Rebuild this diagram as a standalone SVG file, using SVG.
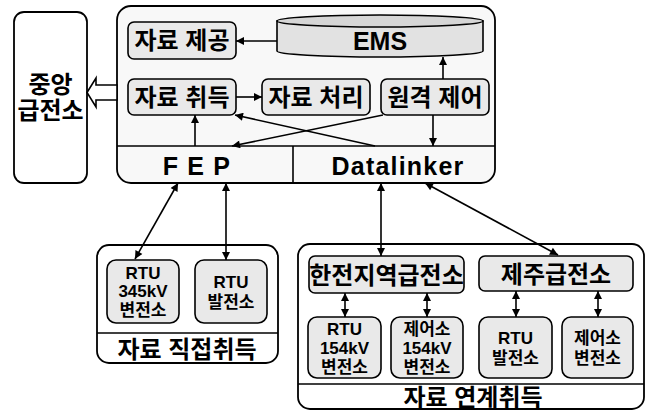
<svg xmlns="http://www.w3.org/2000/svg" width="651" height="410" viewBox="0 0 651 410">
<defs>
<marker id="ah" viewBox="0 0 10 10" refX="10" refY="5" markerWidth="9" markerHeight="8" markerUnits="userSpaceOnUse" orient="auto-start-reverse"><path d="M0,0 L10,5 L0,10 Z" fill="#000"/></marker>
<style>
.box{fill:#e9e9e9;stroke:#000;stroke-width:1.6}
.cont{fill:#f8f8f8;stroke:#000;stroke-width:1.8}
.ln{fill:none;stroke:#000;stroke-width:1.6}
.a{fill:none;stroke:#000;stroke-width:1.6;marker-end:url(#ah)}
.aa{fill:none;stroke:#000;stroke-width:1.6;marker-end:url(#ah);marker-start:url(#ah)}
text{font-family:"Liberation Sans","Noto Sans CJK KR",sans-serif;font-weight:bold;text-anchor:middle;dominant-baseline:central;fill:#000}
.t1{font-size:24px}
.t2{font-size:17px}
.t3{font-size:25px;letter-spacing:1.2px}
</style>
</defs>
<g id="central">
<rect x="14" y="12" width="73" height="171" rx="10" fill="#fff" stroke="#000" stroke-width="1.8"/>
<text class="t1" x="50.5" y="84">중앙</text>
<text class="t1" x="50.5" y="110">급전소</text>
</g>
<g id="main">
<rect class="cont" x="117" y="6" width="378" height="177" rx="14"/>
<line class="ln" x1="117" y1="146" x2="495" y2="146"/>
<line class="ln" x1="293" y1="146" x2="293" y2="183"/>
</g>
<g id="fep"><text class="t3" x="197" y="166">F E P</text></g>
<g id="datalinker"><text class="t3" x="398" y="166">Datalinker</text></g>
<g id="ems">
<path d="M277,21 L277,51 A103,6 0 0 0 483,51 L483,21 Z" fill="#e2e2e2" stroke="#000" stroke-width="1.6"/>
<ellipse cx="380" cy="21" rx="103" ry="6" fill="#d6d6d6" stroke="#000" stroke-width="1.6"/>
<text x="380" y="41" style="font-size:25px">EMS</text>
</g>
<g id="provide"><rect class="box" x="128" y="22" width="108" height="37" rx="6"/><text class="t1" x="182" y="40.5">자료 제공</text></g>
<g id="acquire"><rect class="box" x="128" y="79" width="108" height="36" rx="6"/><text class="t1" x="182" y="97">자료 취득</text></g>
<g id="process"><rect class="box" x="262" y="79" width="108" height="36" rx="6"/><text class="t1" x="316" y="97">자료 처리</text></g>
<g id="remote"><rect class="box" x="381" y="79" width="108" height="36" rx="6"/><text class="t1" x="435" y="97">원격 제어</text></g>
<g id="direct">
<rect x="97" y="245" width="181" height="118" rx="12" fill="#fff" stroke="#000" stroke-width="1.8"/>
<line class="ln" x1="97" y1="333" x2="278" y2="333"/>
<text class="t1" x="187" y="349">자료 직접취득</text>
</g>
<g id="rtu345"><rect class="box" x="107" y="260" width="72" height="63" rx="9"/><text class="t2" x="143" y="273">RTU</text><text class="t2" x="143" y="291.5">345kV</text><text class="t2" x="143" y="310">변전소</text></g>
<g id="rtugen1"><rect class="box" x="195" y="260" width="72" height="63" rx="9"/><text class="t2" x="231" y="282">RTU</text><text class="t2" x="231" y="302">발전소</text></g>
<g id="linked">
<rect x="298" y="244" width="346" height="165" rx="12" fill="#fff" stroke="#000" stroke-width="1.8"/>
<line class="ln" x1="298" y1="384" x2="644" y2="384"/>
<text class="t1" x="473" y="397">자료 연계취득</text>
</g>
<g id="kepco"><rect class="box" x="309" y="256" width="155" height="37" rx="6"/><text class="t1" x="386.5" y="275">한전지역급전소</text></g>
<g id="jeju"><rect class="box" x="479" y="256" width="154" height="35" rx="6"/><text class="t1" x="556" y="274">제주급전소</text></g>
<g id="rtu154"><rect class="box" x="308" y="317" width="73" height="61" rx="9"/><text class="t2" x="344.5" y="329">RTU</text><text class="t2" x="344.5" y="348.5">154kV</text><text class="t2" x="344.5" y="367">변전소</text></g>
<g id="ctl154"><rect class="box" x="391" y="317" width="72" height="61" rx="9"/><text class="t2" x="427" y="329">제어소</text><text class="t2" x="427" y="348.5">154kV</text><text class="t2" x="427" y="367">변전소</text></g>
<g id="rtugen2"><rect class="box" x="479" y="317" width="73" height="61" rx="9"/><text class="t2" x="515.5" y="338">RTU</text><text class="t2" x="515.5" y="358">발전소</text></g>
<g id="ctlsub"><rect class="box" x="562" y="317" width="71" height="61" rx="9"/><text class="t2" x="597.5" y="338">제어소</text><text class="t2" x="597.5" y="358">변전소</text></g>
<g id="connectors">
<polygon points="87,92.5 96,78 96,85 117,85 117,100 96,100 96,107" fill="#fff" stroke="#000" stroke-width="1.6"/>
<line class="a" x1="277" y1="41" x2="236" y2="41"/>
<line class="a" x1="236" y1="97" x2="262" y2="97"/>
<line class="a" x1="195" y1="146" x2="195" y2="115"/>
<line class="a" x1="383" y1="115" x2="232" y2="146"/>
<line class="a" x1="375" y1="146" x2="235" y2="115"/>
<line class="a" x1="433" y1="115" x2="433" y2="146"/>
<line class="a" x1="443" y1="79" x2="443" y2="57"/>
<line class="aa" x1="178" y1="183" x2="135" y2="259"/>
<line class="aa" x1="226" y1="183" x2="226" y2="260"/>
<line class="aa" x1="381" y1="183" x2="381" y2="256"/>
<line class="aa" x1="425" y1="183" x2="558" y2="255"/>
<line class="aa" x1="345" y1="293" x2="345" y2="317"/>
<line class="aa" x1="427" y1="293" x2="427" y2="317"/>
<line class="aa" x1="516" y1="291" x2="516" y2="317"/>
<line class="aa" x1="598" y1="291" x2="598" y2="317"/>
</g>
</svg>
